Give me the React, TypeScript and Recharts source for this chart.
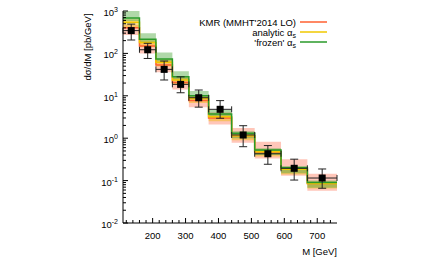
import React from 'react';
import { ComposedChart, Area, Line, Scatter, ErrorBar, XAxis, YAxis } from 'recharts';

// bin edges in M [GeV]
const binEdges = [110, 160, 210, 260, 310, 370, 440, 510, 590, 670, 760];

// measured points
const dataM = [135, 185, 235, 285, 340, 405, 475, 550, 630, 715];
const dataVal = [345, 122, 42, 18.6, 9.0, 4.8, 1.19, 0.43, 0.195, 0.115];
const dataHi = [490, 173, 66, 28, 13.7, 7.7, 1.97, 0.67, 0.32, 0.188];
const dataLo = [207, 76, 23.6, 11.8, 5.4, 2.95, 0.63, 0.243, 0.103, 0.066];

// KMR (MMHT'2014 LO)
const kmrLine = [400, 150, 53, 20.5, 7.8, 3.0, 1.15, 0.47, 0.185, 0.085];
const kmrLo = [270, 100, 36, 14, 5.4, 2.1, 0.78, 0.33, 0.13, 0.058];
const kmrHi = [470, 190, 68, 27, 10.5, 4.1, 1.75, 0.83, 0.32, 0.145];

// analytic alpha_s
const anaLine = [540, 180, 62, 23.5, 8.6, 3.2, 1.15, 0.48, 0.185, 0.085];
const anaLo = [420, 140, 49, 18.5, 6.8, 2.5, 0.9, 0.37, 0.14, 0.065];
const anaHi = [640, 215, 74, 28, 10, 3.7, 1.3, 0.55, 0.21, 0.095];

// 'frozen' alpha_s
const frzLine = [680, 215, 74, 28, 10, 3.7, 1.3, 0.53, 0.2, 0.09];
const frzLo = [580, 185, 64, 24, 8.5, 3.1, 1.0, 0.4, 0.15, 0.068];
const frzHi = [1000, 300, 105, 38, 13, 4.6, 1.45, 0.58, 0.22, 0.1];

const xLabels = [200, 300, 400, 500, 600, 700];
const yDecades = [0.01, 0.1, 1, 10, 100, 1000];
const yExp = ['-2', '-1', '0', '1', '2', '3'];

const stepData = binEdges.map((m, i) => {
  const j = Math.min(i, dataM.length - 1);
  return {
    m,
    kmr: kmrLine[j], kmrLo: kmrLo[j], kmrHi: kmrHi[j],
    ana: anaLine[j], anaLo: anaLo[j], anaHi: anaHi[j],
    frz: frzLine[j], frzLo: frzLo[j], frzHi: frzHi[j],
  };
});

const points = dataM.map((m, i) => ({
  m,
  y: dataVal[i],
  ey: [dataVal[i] - dataLo[i], dataHi[i] - dataVal[i]],
  ex: [m - binEdges[i], binEdges[i + 1] - m],
}));

const xTicks: number[] = [];
for (let v = 120; v < 760; v += 20) xTicks.push(v);
const yTicks: number[] = [];
yDecades.forEach((d) => {
  for (let k = 1; k < 10; k++) {
    const v = d * k;
    if (v <= 1000.0001) yTicks.push(v);
  }
});

const font = '"Liberation Sans", Arial, sans-serif';

const isDecade = (v: number) => yDecades.some((d) => Math.abs(v - d) / d < 1e-6);

const XTickBottom = (props: any) => {
  const { x, y, payload } = props;
  const major = xLabels.includes(payload.value);
  return (
    <g>
      <line x1={x} x2={x} y1={y} y2={y - (major ? 5 : 3)} stroke="#000" strokeWidth={1} />
      {major && (
        <text x={x} y={y + 16} textAnchor="middle" fontSize={9.5} fontFamily={font} fill="#000">
          {payload.value}
        </text>
      )}
    </g>
  );
};

const XTickTop = (props: any) => {
  const { x, y, payload } = props;
  const major = xLabels.includes(payload.value);
  return <line x1={x} x2={x} y1={y} y2={y + (major ? 5 : 3)} stroke="#000" strokeWidth={1} />;
};

const YTickLeft = (props: any) => {
  const { x, y, payload } = props;
  const v = payload.value;
  const major = isDecade(v);
  const idx = yDecades.findIndex((d) => Math.abs(v - d) / d < 1e-6);
  return (
    <g>
      <line x1={x} x2={x + (major ? 5 : 3)} y1={y} y2={y} stroke="#000" strokeWidth={1} />
      {major && (
        <text x={x - 5} y={y + 5} textAnchor="end" fontSize={9.5} fontFamily={font} fill="#000">
          10<tspan dy={-4} fontSize={7}>{yExp[idx]}</tspan>
        </text>
      )}
    </g>
  );
};

const YTickRight = (props: any) => {
  const { x, y, payload } = props;
  const major = isDecade(payload.value);
  return <line x1={x} x2={x - (major ? 5 : 3)} y1={y} y2={y} stroke="#000" strokeWidth={1} />;
};

const Square = (props: any) => {
  const { cx, cy } = props;
  return <rect x={cx - 3.5} y={cy - 3.5} width={7} height={7} fill="#000" />;
};

export default function App() {
  return (
    <div style={{ position: 'absolute', left: 0, top: 0, width: 431, height: 258, background: '#fff' }}>
      <ComposedChart
        width={431}
        height={258}
        data={stepData}
        margin={{ top: 11, right: 94, left: 83, bottom: 0 }}
      >
        <XAxis
          dataKey="m"
          type="number"
          domain={[110, 760]}
          allowDataOverflow
          ticks={xTicks}
          interval={0}
          tickSize={0}
          tickMargin={0}
          height={35}
          axisLine={{ stroke: '#000' }}
          tick={<XTickBottom />}
        />
        <XAxis
          xAxisId="top"
          orientation="top"
          dataKey="m"
          type="number"
          domain={[110, 760]}
          allowDataOverflow
          ticks={xTicks}
          interval={0}
          tickSize={0}
          tickMargin={0}
          height={0}
          axisLine={{ stroke: '#000' }}
          tick={<XTickTop />}
        />
        <YAxis
          type="number"
          scale="log"
          domain={[0.01, 1000]}
          allowDataOverflow
          ticks={yTicks}
          interval={0}
          tickSize={0}
          tickMargin={0}
          width={40}
          axisLine={{ stroke: '#000' }}
          tick={<YTickLeft />}
        />
        <YAxis
          yAxisId="right"
          orientation="right"
          type="number"
          scale="log"
          domain={[0.01, 1000]}
          allowDataOverflow
          ticks={yTicks}
          interval={0}
          tickSize={0}
          tickMargin={0}
          width={0}
          axisLine={{ stroke: '#000' }}
          tick={<YTickRight />}
        />
        <Area
          type="stepAfter"
          dataKey={(d: any) => [d.kmrLo, d.kmrHi]}
          stroke="none"
          fill="#ff7050"
          fillOpacity={0.4}
          isAnimationActive={false}
        />
        <Area
          type="stepAfter"
          dataKey={(d: any) => [d.anaLo, d.anaHi]}
          stroke="none"
          fill="#f0b800"
          fillOpacity={0.45}
          isAnimationActive={false}
        />
        <Area
          type="stepAfter"
          dataKey={(d: any) => [d.frzLo, d.frzHi]}
          stroke="none"
          fill="#50a840"
          fillOpacity={0.45}
          isAnimationActive={false}
        />
        <Line type="stepAfter" dataKey="kmr" stroke="#ff6030" strokeWidth={1.5} dot={false} isAnimationActive={false} />
        <Line type="stepAfter" dataKey="ana" stroke="#f0c800" strokeWidth={1.5} dot={false} isAnimationActive={false} />
        <Line type="stepAfter" dataKey="frz" stroke="#2a9a2a" strokeWidth={1.5} dot={false} isAnimationActive={false} />
        <Scatter data={points} dataKey="y" shape={<Square />} isAnimationActive={false}>
          <ErrorBar dataKey="ey" direction="y" width={4} stroke="#222" strokeWidth={1} isAnimationActive={false} />
          <ErrorBar dataKey="ex" direction="x" width={3} stroke="#222" strokeWidth={1} isAnimationActive={false} />
        </Scatter>
      </ComposedChart>
      <svg width={431} height={258} style={{ position: 'absolute', left: 0, top: 0, pointerEvents: 'none' }}>
        <text
          transform="translate(91,47) rotate(-90)"
          textAnchor="middle"
          fontSize={9.5}
          fontFamily={font}
          fill="#000"
        >
          dσ/dM [pb/GeV]
        </text>
        <text x={337} y={255} textAnchor="end" fontSize={9.5} fontFamily={font} fill="#000">
          M [GeV]
        </text>
        <text x={296} y={25.5} textAnchor="end" fontSize={9.5} fontFamily={font} fill="#000">
          KMR (MMHT'2014 LO)
        </text>
        <text x={296} y={35.5} textAnchor="end" fontSize={9.5} fontFamily={font} fill="#000">
          analytic α<tspan dy={2.5} fontSize={7}>s</tspan>
        </text>
        <text x={296} y={45.5} textAnchor="end" fontSize={9.5} fontFamily={font} fill="#000">
          'frozen' α<tspan dy={2.5} fontSize={7}>s</tspan>
        </text>
        <line x1={300} x2={327} y1={22} y2={22} stroke="#ff6030" strokeWidth={1.5} />
        <line x1={300} x2={327} y1={32} y2={32} stroke="#f0c800" strokeWidth={1.5} />
        <line x1={300} x2={327} y1={42} y2={42} stroke="#2a9a2a" strokeWidth={1.5} />
      </svg>
    </div>
  );
}
